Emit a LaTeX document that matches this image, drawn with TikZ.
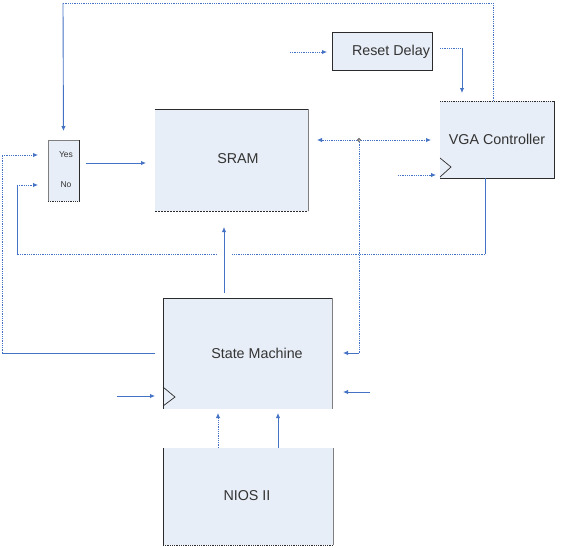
\documentclass[tikz,border=0pt]{standalone}
\usepackage{fontspec}
\setmainfont{Liberation Sans}
\usetikzlibrary{arrows.meta,calc}
\definecolor{wirec}{HTML}{4472C4}
\definecolor{boxfill}{HTML}{E8EEF7}
\definecolor{edged}{HTML}{2B2B2B}
\definecolor{edgeg}{HTML}{7F7F7F}
\definecolor{txt}{HTML}{333333}
\tikzset{
  box/.style={draw=none,fill=boxfill,inner sep=0pt,outer sep=0pt},
  wire/.style={draw=wirec,line width=0.9pt},
  dots/.style={dash pattern=on 0.9pt off 0.9pt},
  arr/.style={-{Latex[length=5pt,width=4.5pt]}},
  arrs/.style={{Latex[length=5pt,width=4.5pt]}-{Latex[length=5pt,width=4.5pt]}},
  lbl/.style={text=txt,font=\fontsize{14.3}{16}\selectfont,inner sep=0pt},
  small/.style={text=txt,font=\fontsize{8.5}{10}\selectfont,inner sep=0pt},
  dk/.style={draw=edged,line width=0.8pt},
  gr/.style={draw=edgeg,line width=0.8pt},
}
\begin{document}
\begin{tikzpicture}[x=1pt,y=-1pt]
\useasboundingbox (0,0) rectangle (576,547);
% boxes
\node[box,minimum width=153pt,minimum height=102pt] (sram) at (231.5,160) {};
\node[box,minimum width=31pt,minimum height=61pt] (mux) at (63.5,170.5) {};
\node[box,minimum width=100pt,minimum height=38pt] (reset) at (382,51) {};
\node[box,minimum width=114pt,minimum height=77pt] (vga) at (497,139.5) {};
\node[box,minimum width=169pt,minimum height=111pt] (sm) at (247.5,353.5) {};
\node[box,minimum width=170pt,minimum height=97pt] (nios) at (248,496.5) {};
% box edges
\draw[dk] (sram.north west) -- (sram.north east);
\draw[gr] (sram.north east) -- (sram.south east);
\draw[dk,dash pattern=on 2pt off 1pt] (sram.south west) -- (sram.south east);
\draw[gr] (mux.south west) -- (mux.north west) -- (mux.north east);
\draw[dk] (mux.north east) -- (mux.south east);
\draw[dk,densely dotted] (mux.south west) -- (mux.south east);
\draw[dk] (reset.north west) rectangle (reset.south east);
\draw[dk,densely dotted] (vga.north west) -- (vga.north east);
\draw[dk] (vga.north east) -- (vga.south east) -- (vga.south west);
\draw[dk] (sm.south west) -- (sm.north west) -- (sm.north east);
\draw[gr] (sm.north east) -- (sm.south east);
\draw[dk] (nios.north west) -- (nios.south west);
\draw[gr] (nios.north east) -- (nios.south east);
\draw[dk,densely dotted] (nios.south west) -- (nios.south east);
% clock triangles
\draw[edged,line width=0.7pt] (440,158) coordinate (vk1) -- (451,167) coordinate (vk2) -- (440,177) coordinate (vk3);
\draw[edged,line width=0.7pt] (163,387) coordinate (sk1) -- (175,397) coordinate (sk2) -- (163,406) coordinate (sk3);
% labels
\node[lbl] (tsram) at (238,159) {SRAM};
\node[lbl] (treset) at (391,52) {Reset Delay};
\node[lbl] (tvga) at (497,139) {VGA Controller};
\node[lbl] (tsm) at (257,353) {State Machine};
\node[lbl] (tnios) at (247,496) {NIOS II};
\node[small] (tyes) at (66,155) {Yes};
\node[small] (tno) at (66,185) {No};
% coordinates
\coordinate (tl) at (63,3);
\coordinate (tr) at (493,3);
\coordinate (rin) at (290,52);
\coordinate (rb) at (462,48);
\coordinate (j) at (359,140);
\coordinate (jd) at (359,353);
\coordinate (vc) at (398,175);
\coordinate (v1) at (485,254);
\coordinate (v2) at (232,254);
\coordinate (v3) at (217,254);
\coordinate (v4) at (17,254);
\coordinate (v5) at (17,185);
\coordinate (s1) at (2,353);
\coordinate (s2) at (2,155);
\coordinate (mo) at (86,163);
\coordinate (ss) at (224,293);
\coordinate (sc) at (117,396);
\coordinate (sr) at (370,392);
\coordinate (n1) at (218,448);
\coordinate (n2) at (278,448);
% connectors
\draw[wire,dots] (tr |- vga.north) -- (tr) -- (tl);
\draw[wire,arr,shorten >=9pt] (tl) -- (mux.north);
\draw[wire,dots,arr,shorten >=5pt] (rin) -- (rin -| reset.west);
\draw[wire,dots] ([xshift=8pt]reset.east |- rb) -- (rb);
\draw[wire,arr,shorten >=8pt] (rb) -- (rb |- vga.north);
\draw[wire,dots,arrs,shorten <=9pt,shorten >=9pt] (sram.east |- j) -- (vga.west |- j);
\draw[wire,dots] (j) -- (jd);
\draw[wire,arr,shorten >=11pt] (jd) -- (jd -| sm.east);
\draw[black,fill=white,line width=0.5pt] (j) circle (1.6pt);
\draw[wire,dots,arr,shorten >=4pt] (vc) -- (vc -| vga.west);
\draw[wire] (v1 |- vga.south) -- (v1);
\draw[wire,dots] (v1) -- (v2);
\draw[wire,dots] (v3) -- (v4);
\draw[wire] (v4) -- (v5);
\draw[wire,dots,arr,shorten >=10pt] (v5) -- (v5 -| mux.west);
\draw[wire] ([xshift=-8pt]sm.west |- s1) -- (s1);
\draw[wire,dots] (s1) -- (s2);
\draw[wire,dots,arr,shorten >=10pt] (s2) -- (s2 -| mux.west);
\draw[wire,arr,shorten >=9pt] (mo) -- (mo -| sram.west);
\draw[wire,arr,shorten >=16pt] (ss) -- (ss |- sram.south);
\draw[wire,arr,shorten >=8pt] (sc) -- (sc -| sm.west);
\draw[wire,arr,shorten >=11pt] (sr) -- (sr -| sm.east);
\draw[wire,dots,arr,shorten >=4pt] (n1) -- (n1 |- sm.south);
\draw[wire,arr,shorten >=4pt] (n2) -- (n2 |- sm.south);
\end{tikzpicture}
\end{document}
